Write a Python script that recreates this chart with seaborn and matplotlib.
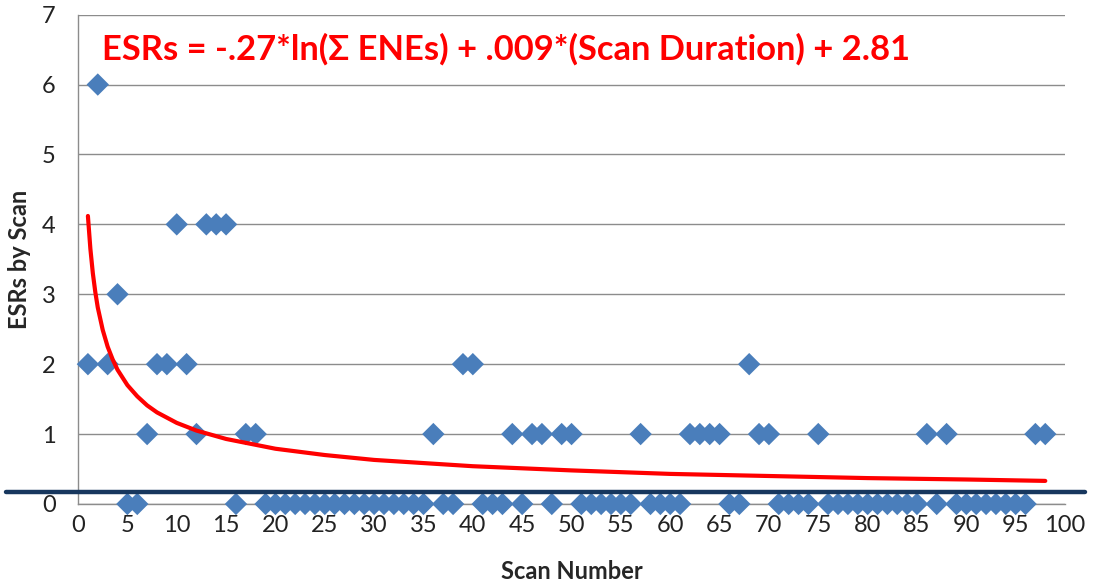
import numpy as np
import pandas as pd
import matplotlib
matplotlib.use("Agg")
import matplotlib.pyplot as plt
import seaborn as sns

# ESRs per scan, scans 1..98
scan_number = list(range(1, 99))
esrs = [2, 6, 2, 3, 0, 0, 1, 2, 2, 4,
        2, 1, 4, 4, 4, 0, 1, 1, 0, 0,
        0, 0, 0, 0, 0, 0, 0, 0, 0, 0,
        0, 0, 0, 0, 0, 1, 0, 0, 2, 2,
        0, 0, 0, 1, 0, 1, 1, 0, 1, 1,
        0, 0, 0, 0, 0, 0, 1, 0, 0, 0,
        0, 1, 1, 1, 1, 0, 0, 2, 1, 1,
        0, 0, 0, 0, 1, 0, 0, 0, 0, 0,
        0, 0, 0, 0, 0, 1, 0, 1, 0, 0,
        0, 0, 0, 0, 0, 0, 1, 1]

# trend line
trend_x = [1, 1.25, 1.5, 1.75, 2, 2.5, 3, 3.5, 4, 5, 6, 7, 8, 10, 12, 15, 20, 25, 30,
           40, 50, 60, 70, 80, 90, 98]
trend_y = [4.12, 3.65, 3.30, 3.03, 2.81, 2.49, 2.25, 2.07, 1.92, 1.70, 1.54, 1.41,
           1.31, 1.16, 1.05, 0.93, 0.79, 0.70, 0.63, 0.54, 0.48, 0.43, 0.40, 0.37,
           0.35, 0.33]

x_ticks = list(range(0, 101, 5))
y_ticks = list(range(0, 8))
equation = "ESRs = -.27*ln(\u03a3 ENEs) + .009*(Scan Duration) + 2.81"

sns.set_style("white")
plt.rcParams["font.family"] = ["Lato", "DejaVu Sans"]

df = pd.DataFrame({"Scan Number": scan_number, "ESRs by Scan": esrs})
trend = pd.DataFrame({"x": trend_x, "y": trend_y})

fig = plt.figure(figsize=(10.93, 5.86), dpi=100)
ax = fig.add_axes([0.0714, 0.140, 0.903, 0.835])

grid_c = "#8c8c8c"
ax.set_xlim(0, 100)
ax.set_ylim(0, 7)
ax.set_xticks(x_ticks)
ax.set_yticks(y_ticks)
ax.yaxis.grid(True, color=grid_c, lw=1)
ax.set_axisbelow(True)
for s in ["top", "right"]:
    ax.spines[s].set_visible(False)
for s in ["left", "bottom"]:
    ax.spines[s].set_color(grid_c)
    ax.spines[s].set_linewidth(1)
ax.tick_params(axis="both", direction="out", length=5, color=grid_c, width=1,
               labelsize=17, labelcolor="#222222")
ax.tick_params(axis="x", pad=3)
ax.tick_params(axis="y", pad=11)

sns.scatterplot(data=df, x="Scan Number", y="ESRs by Scan", marker="D",
                color="#4a7ebb", s=130, edgecolor="none", clip_on=False,
                zorder=3, ax=ax)
sns.lineplot(data=trend, x="x", y="y", color="#ff0000", lw=3, ax=ax, zorder=4)

# dark line near the bottom
ax.plot([-0.073, 1.02], [0.17, 0.17], transform=ax.get_yaxis_transform(),
        color="#17375e", lw=3.2, clip_on=False, zorder=5)

ax.text(2.4, 6.5, equation, color="#ff0000", fontsize=24.8, fontweight="bold",
        va="center", ha="left")

ax.set_xlabel("Scan Number", fontsize=17, fontweight="bold", labelpad=17)
ax.set_ylabel("ESRs by Scan", fontsize=17, fontweight="bold", labelpad=8)

fig.savefig("out.png", dpi=100)
